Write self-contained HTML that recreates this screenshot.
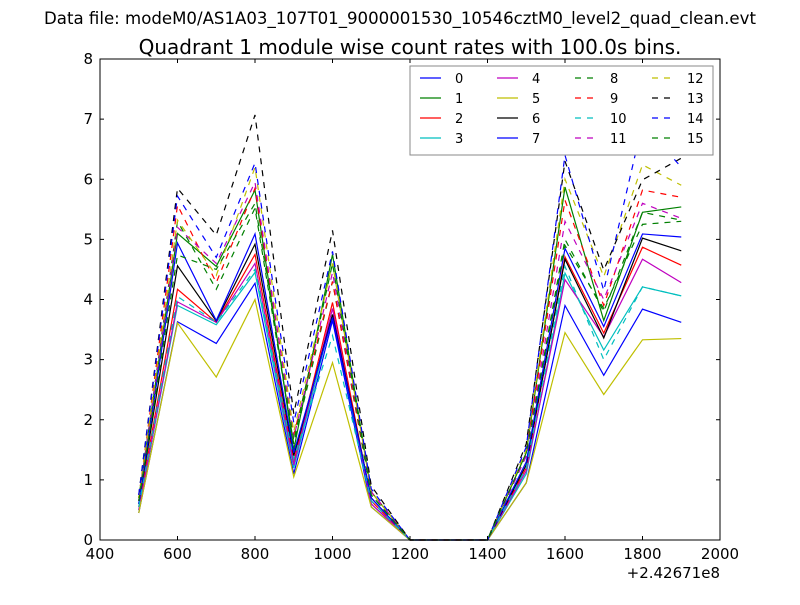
<!DOCTYPE html>
<html><head><meta charset="utf-8"><style>body{margin:0;background:#fff}svg text{font-family:"DejaVu Sans","Liberation Sans",sans-serif}</style></head>
<body>
<svg id="chart" width="800" height="600" xmlns="http://www.w3.org/2000/svg">
<rect width="800" height="600" fill="#fff"/>
<text x="400" y="24" font-size="16.6" text-anchor="middle">Data file: modeM0/AS1A03_107T01_9000001530_10546cztM0_level2_quad_clean.evt</text>
<text x="410" y="54" font-size="20" text-anchor="middle">Quadrant 1 module wise count rates with 100.0s bins.</text>
<g id="plot"></g>
</svg>
<script>
const xValues=[500,600,700,800,900,1000,1100,1200,1300,1400,1500,1600,1700,1800,1900];
const seriesNames=["0","1","2","3","4","5","6","7","8","9","10","11","12","13","14","15"];
const seriesColors=["#0000ff","#008000","#ff0000","#00bfbf","#bf00bf","#bfbf00","#000000","#0000ff","#008000","#ff0000","#00bfbf","#bf00bf","#bfbf00","#000000","#0000ff","#008000"];
const s0=[0.45,3.63,3.27,4.27,1.1,3.65,0.55,0,0,0,0.95,3.9,2.74,3.84,3.62];
const s1=[0.7,5.1,4.55,5.82,1.5,4.75,0.8,0,0,0,1.45,5.87,3.65,5.45,5.54];
const s2=[0.55,4.17,3.62,4.75,1.3,3.95,0.65,0,0,0,1.2,4.71,3.44,4.87,4.57];
const s3=[0.5,3.9,3.58,4.45,1.2,3.75,0.6,0,0,0,1.1,4.44,3.16,4.21,4.06];
const s4=[0.5,3.96,3.62,4.6,1.25,3.85,0.6,0,0,0,1.15,4.33,3.38,4.67,4.28];
const s5=[0.45,3.61,2.71,4.0,1.05,2.95,0.55,0,0,0,0.95,3.45,2.42,3.33,3.35];
const s6=[0.6,4.56,3.64,4.92,1.4,3.75,0.7,0,0,0,1.25,4.67,3.36,5.02,4.81];
const s7=[0.6,4.94,3.65,5.09,1.45,3.7,0.7,0,0,0,1.3,4.85,3.55,5.09,5.04];
const s8=[0.65,5.3,4.17,5.52,1.6,4.3,0.75,0,0,0,1.4,5.0,3.8,5.45,5.32];
const s9=[0.7,5.57,4.28,5.85,1.75,4.3,0.8,0,0,0,1.45,5.65,3.9,5.82,5.7];
const s10=[0.55,4.05,3.62,4.5,1.35,3.4,0.65,0,0,0,1.2,4.55,3.0,4.21,4.06];
const s11=[0.65,5.2,4.6,5.95,1.7,4.45,0.8,0,0,0,1.4,5.3,4.0,5.6,5.35];
const s12=[0.7,5.32,4.4,6.2,1.8,4.6,0.8,0,0,0,1.5,6.0,4.38,6.24,5.9];
const s13=[0.75,5.85,5.07,7.07,2.1,5.15,0.9,0,0,0,1.6,6.3,4.49,5.99,6.35];
const s14=[0.75,5.72,4.7,6.27,1.95,4.8,0.85,0,0,0,1.55,6.4,4.15,6.93,6.2];
const s15=[0.65,4.74,4.5,5.6,1.65,4.6,0.75,0,0,0,1.45,4.9,3.85,5.25,5.3];
const seriesValues=[s0,s1,s2,s3,s4,s5,s6,s7,s8,s9,s10,s11,s12,s13,s14,s15];
const xTicks=["400","600","800","1000","1200","1400","1600","1800","2000"];
const yTicks=["0","1","2","3","4","5","6","7","8"];
const L=100,R=720,T=59,B=540,NS="http://www.w3.org/2000/svg";
const xs=v=>L+(v-400)/1600*(R-L), ys=v=>B-v/8*(B-T);
const g=document.getElementById('plot');
function mk(t,a,p){const e=document.createElementNS(NS,t);for(const k in a)e.setAttribute(k,a[k]);(p||g).appendChild(e);return e;}
seriesValues.forEach((vals,i)=>{
 const p=mk('polyline',{points:vals.map((v,j)=>xs(xValues[j])+','+ys(v)).join(' '),fill:'none',stroke:seriesColors[i],'stroke-width':1.2});
 if(i>=8)p.setAttribute('stroke-dasharray','6,6');
 
 
});
const ax=mk('rect',{x:L,y:T,width:R-L,height:B-T,fill:'none',stroke:'#000','stroke-width':1});


xTicks.forEach(t=>{const x=xs(+t);
 mk('line',{x1:x,x2:x,y1:B,y2:B-4,stroke:'#000'});mk('line',{x1:x,x2:x,y1:T,y2:T+4,stroke:'#000'});
 const e=mk('text',{x:x,y:B+19,'font-size':15,'text-anchor':'middle'});e.textContent=t;
 
 
});
yTicks.forEach(t=>{const y=ys(+t);
 mk('line',{x1:L,x2:L+4,y1:y,y2:y,stroke:'#000'});mk('line',{x1:R,x2:R-4,y1:y,y2:y,stroke:'#000'});
 const e=mk('text',{x:L-7,y:y+5,'font-size':15,'text-anchor':'end'});e.textContent=t;
 
 
});
const off=mk('text',{x:720,y:578,'font-size':15,'text-anchor':'end'});off.textContent='+2.42671e8';


const lg=mk('g',{});


mk('rect',{x:410,y:66,width:303,height:89,fill:'#fff',stroke:'#888','stroke-width':1},lg);
const colX=[420,497,575,652];
seriesNames.forEach((n,i)=>{const c=Math.floor(i/4),r=i%4,y=78+r*20,x=colX[c];
 const ent=mk('g',{},lg);
 
 
 const ln=mk('line',{x1:x,x2:x+21,y1:y,y2:y,stroke:seriesColors[i],'stroke-width':1.2},ent);
 if(i>=8)ln.setAttribute('stroke-dasharray','6,6');
 const tx=mk('text',{x:x+35,y:y+5,'font-size':13},ent);tx.textContent=n;
});
</script>
</body></html>
